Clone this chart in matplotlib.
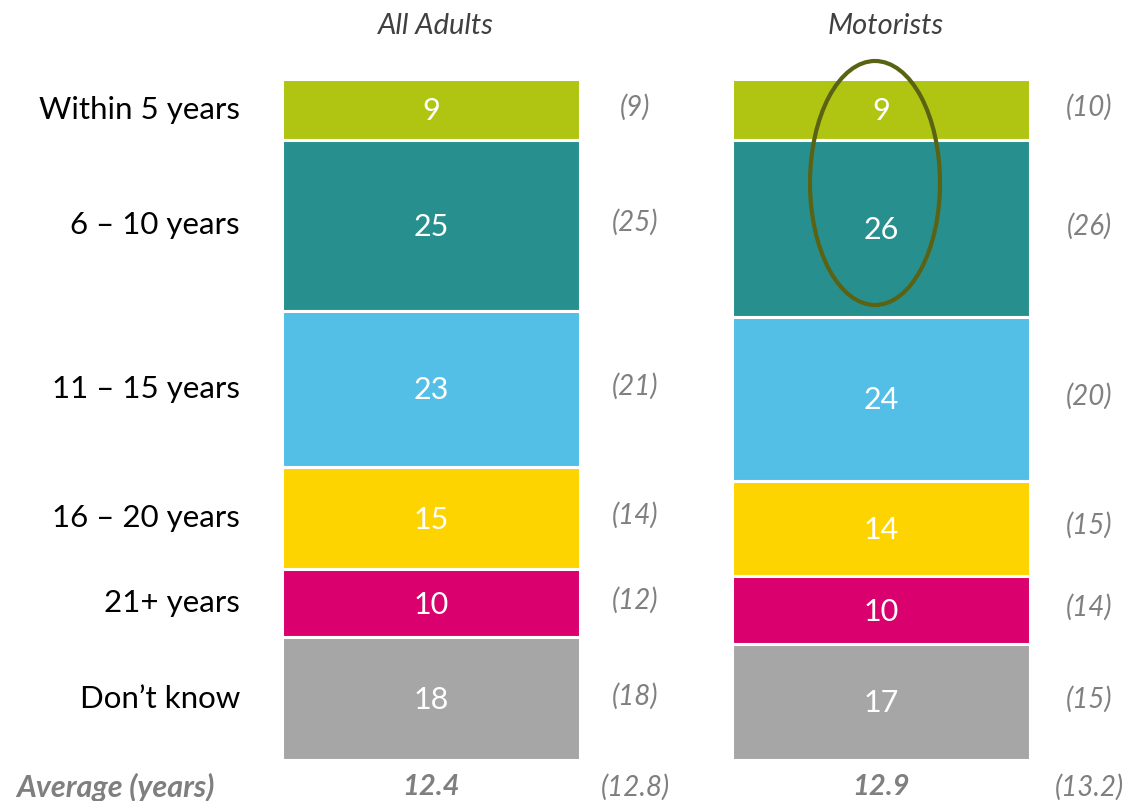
import matplotlib
matplotlib.use("Agg")
import matplotlib.pyplot as plt
from matplotlib.patches import Ellipse

plt.rcParams['font.family'] = ['Lato', 'DejaVu Sans']

categories = ["Within 5 years", "6 \u2013 10 years", "11 \u2013 15 years",
              "16 \u2013 20 years", "21+ years", "Don\u2019t know"]
groups = ["All Adults", "Motorists"]
all_adults = [9, 25, 23, 15, 10, 18]
motorists = [9, 26, 24, 14, 10, 17]
all_adults_prev = ["(9)", "(25)", "(21)", "(14)", "(12)", "(18)"]
motorists_prev = ["(10)", "(26)", "(20)", "(15)", "(14)", "(15)"]
averages = ["12.4", "12.9"]
averages_prev = ["(12.8)", "(13.2)"]
avg_label = "Average (years)"

colors = ["#afc512", "#27908f", "#54bfe6", "#fed400", "#da006e", "#a6a6a6"]

W, H = 1128, 801
fig = plt.figure(figsize=(W / 100, H / 100), dpi=100)
# axes: y 0..100 maps to pixel 79..760
ax = fig.add_axes([0, 41 / H, 1, 681 / H])
ax.set_ylim(100, 0)
ax.set_xlim(-431 / 450, (W - 431) / 450)
ax.axis('off')

bar_w = 298 / 450
series = [all_adults, motorists]
prevs = [all_adults_prev, motorists_prev]
prev_dx = [204 / 450, 208 / 450]

for gi, vals in enumerate(series):
    bottom = 0
    for ci, v in enumerate(vals):
        ax.bar(gi, v, bottom=bottom, width=bar_w, color=colors[ci],
               edgecolor='white', linewidth=2.2, align='center')
        mid = bottom + v / 2
        ax.text(gi, mid + 0.2, str(v), ha='center', va='center', color='white',
                fontsize=22)
        ax.text(gi + prev_dx[gi], mid - 0.4, prevs[gi][ci], ha='center', va='center',
                color='#808080', fontsize=20, style='italic')
        bottom += v
    ax.text(gi + 5 / 450, -7.8, groups[gi], ha='center', va='center',
            color='#404040', fontsize=21, style='italic')
    ax.text(gi, 104.0, averages[gi], ha='center', va='center',
            color='#7f7f7f', fontsize=21, style='italic', weight='bold')
    ax.text(gi + prev_dx[gi], 104.0, averages_prev[gi], ha='center', va='center',
            color='#7f7f7f', fontsize=20, style='italic')

# category labels aligned to All Adults segments
bottom = 0
for ci, v in enumerate(all_adults):
    mid = bottom + v / 2
    ax.text(-431 / 450 + 240 / 450, mid, categories[ci], ha='right', va='center',
            color='black', fontsize=22.5)
    bottom += v

ax.text(-431 / 450 + 115 / 450, 104.0, avg_label, ha='center', va='center',
        color='#7f7f7f', fontsize=22, style='italic', weight='bold')

# highlight ellipse around Motorists top two values
ell = Ellipse((1 - 6 / 450, (183 - 79) / 6.81), width=130 / 450,
              height=244 / 6.81, fill=False, edgecolor='#5a6313', linewidth=3,
              clip_on=False)
ax.add_patch(ell)

fig.savefig("out.png", dpi=100)
